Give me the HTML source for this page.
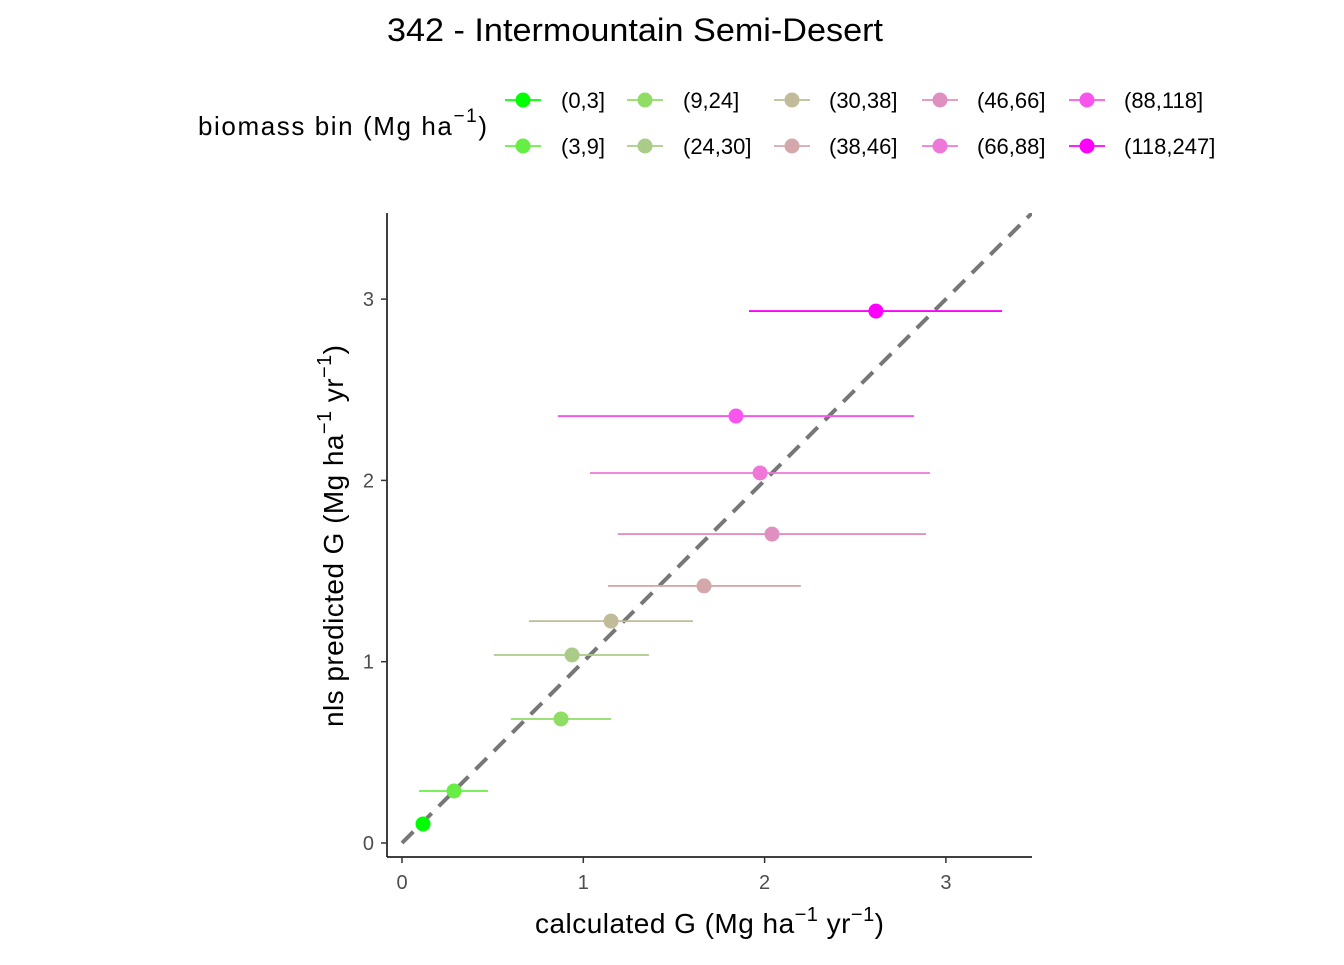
<!DOCTYPE html>
<html><head><meta charset="utf-8"><style>
body{margin:0;background:#fff;}
svg{font-family:"Liberation Sans",Arial,sans-serif;}
</style></head><body>
<svg id="chart" width="1344" height="960" viewBox="0 0 1344 960">
<defs><clipPath id="pc"><rect x="387" y="213" width="645" height="644"/></clipPath></defs>
<text x="387" y="41" font-size="32" textLength="496" lengthAdjust="spacingAndGlyphs" fill="#000">342 - Intermountain Semi-Desert</text>
<g id="legend">
<text x="198" y="135" font-size="26" textLength="289" fill="#000">biomass bin (Mg ha<tspan dy="-13" font-size="19">−1</tspan><tspan dy="13">)</tspan></text>
</g>
<g id="plot"></g>
<text x="535" y="933" font-size="28" textLength="349" fill="#000">calculated G (Mg ha<tspan dy="-12" font-size="20">−1</tspan><tspan dy="12"> yr</tspan><tspan dy="-12" font-size="20">−1</tspan><tspan dy="12">)</tspan></text>
<text transform="translate(343,727) rotate(-90)" font-size="28" textLength="382" fill="#000">nls predicted G (Mg ha<tspan dy="-12" font-size="20">−1</tspan><tspan dy="12"> yr</tspan><tspan dy="-12" font-size="20">−1</tspan><tspan dy="12">)</tspan></text>
</svg>
<script>
const bins=["(0,3]","(3,9]","(9,24]","(24,30]","(30,38]","(38,46]","(46,66]","(66,88]","(88,118]","(118,247]"];
const colors=["#00ff00","#66ee44","#90dd66","#aacc88","#c0bb99","#d4a8aa","#e090c0","#ee77d8","#f855ee","#ff00ff"];
const calcG=[0.116,0.287,0.877,0.938,1.153,1.666,2.041,1.975,1.842,2.614];
const predG=[0.105,0.287,0.684,1.037,1.224,1.418,1.704,2.041,2.355,2.934];
const calcLo=[0.09,0.094,0.60,0.507,0.70,1.136,1.19,1.037,0.86,1.914];
const calcHi=[0.14,0.474,1.153,1.362,1.605,2.20,2.89,2.912,2.824,3.31];
const ticks=[0,1,2,3];
const NS="http://www.w3.org/2000/svg";
const sx=v=>402+v*181.3, sy=v=>843-v*181.3;
const svg=document.getElementById('chart'), plot=document.getElementById('plot'), leg=document.getElementById('legend');
function mk(tag,attrs,parent){const e=document.createElementNS(NS,tag);for(const k in attrs)e.setAttribute(k,attrs[k]);parent.appendChild(e);return e;}
let ax=mk('line',{x1:387,y1:857,x2:1032,y2:857,stroke:'#000','stroke-width':1.5},plot);


let ay=mk('line',{x1:387,y1:213,x2:387,y2:857,stroke:'#000','stroke-width':1.5},plot);


ticks.forEach(t=>{
 mk('line',{x1:sx(t),y1:857,x2:sx(t),y2:863,stroke:'#333','stroke-width':1.5},plot);
 let tx=mk('text',{x:sx(t),y:889,'font-size':20,'text-anchor':'middle',fill:'#4d4d4d'},plot);tx.textContent=t;
 
 
 mk('line',{x1:381,y1:sy(t),x2:387,y2:sy(t),stroke:'#333','stroke-width':1.5},plot);
 let ty=mk('text',{x:374,y:sy(t)+7,'font-size':20,'text-anchor':'end',fill:'#4d4d4d'},plot);ty.textContent=t;
 
 
});
let d=mk('line',{x1:sx(0),y1:sy(0),x2:sx(3.6),y2:sy(3.6),stroke:'#777','stroke-width':4,'stroke-dasharray':'16 10','clip-path':'url(#pc)'},plot);


bins.forEach((b,i)=>{
 let e=mk('line',{x1:sx(calcLo[i]),y1:sy(predG[i]),x2:sx(calcHi[i]),y2:sy(predG[i]),stroke:colors[i],'stroke-width':1.8},plot);
 
 
 let c=mk('circle',{cx:sx(calcG[i]),cy:sy(predG[i]),r:7.5,fill:colors[i]},plot);
 
 
 const col=Math.floor(i/2),row=i%2;
 const kx=[523,645,792,940,1087][col], lx=[561,683,829,977,1124][col], y=100+row*46;
 let g=mk('g',{},leg);
 
 
 mk('line',{x1:kx-18,y1:y,x2:kx+18,y2:y,stroke:colors[i],'stroke-width':1.8},g);
 mk('circle',{cx:kx,cy:y,r:7.5,fill:colors[i]},g);
 let t=mk('text',{x:lx,y:y+8,'font-size':22,fill:'#000'},g);t.textContent=b;
});
</script>
</body></html>
